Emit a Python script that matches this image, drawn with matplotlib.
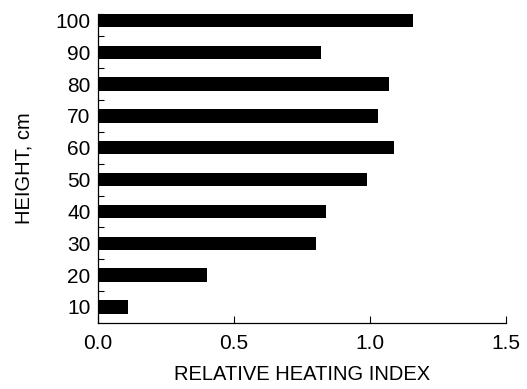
import matplotlib.pyplot as plt
import numpy as np

plt.rcParams['font.family'] = ['Liberation Sans', 'DejaVu Sans']

heights = [10, 20, 30, 40, 50, 60, 70, 80, 90, 100]
index = [0.11, 0.40, 0.80, 0.84, 0.99, 1.09, 1.03, 1.07, 0.82, 1.16]
x_ticks = [0.0, 0.5, 1.0, 1.5]
x_labels = ['0.0', '0.5', '1.0', '1.5']


def main():
    fig = plt.figure(figsize=(5.27, 3.89), dpi=100)
    ax = fig.add_axes([0.186, 0.170, 0.774, 0.794])
    ax.barh(heights, index, height=4.2, color='black', edgecolor='none')

    ax.set_xlim(0, 1.5)
    ax.set_ylim(5, 102)
    ax.set_xticks(x_ticks)
    ax.set_xticklabels(x_labels)
    ax.set_yticks(heights)
    ax.set_yticks(list(np.arange(15, 100, 10)) + [102], minor=True)

    ax.tick_params(axis='y', which='major', length=0, pad=5.5, labelsize=15)
    ax.tick_params(axis='y', which='minor', direction='in', length=4, width=0.8)
    ax.tick_params(axis='x', which='major', direction='in', length=5, width=0.8,
                   pad=8, labelsize=15)

    for s in ['top', 'right']:
        ax.spines[s].set_visible(False)
    for s in ['left', 'bottom']:
        ax.spines[s].set_linewidth(0.9)

    ax.set_xlabel('RELATIVE HEATING INDEX', fontsize=14.5, labelpad=9)
    ax.set_ylabel('HEIGHT, cm', fontsize=14.5, labelpad=16)

    fig.savefig('out.png', dpi=100)


if __name__ == "__main__":
    main()
